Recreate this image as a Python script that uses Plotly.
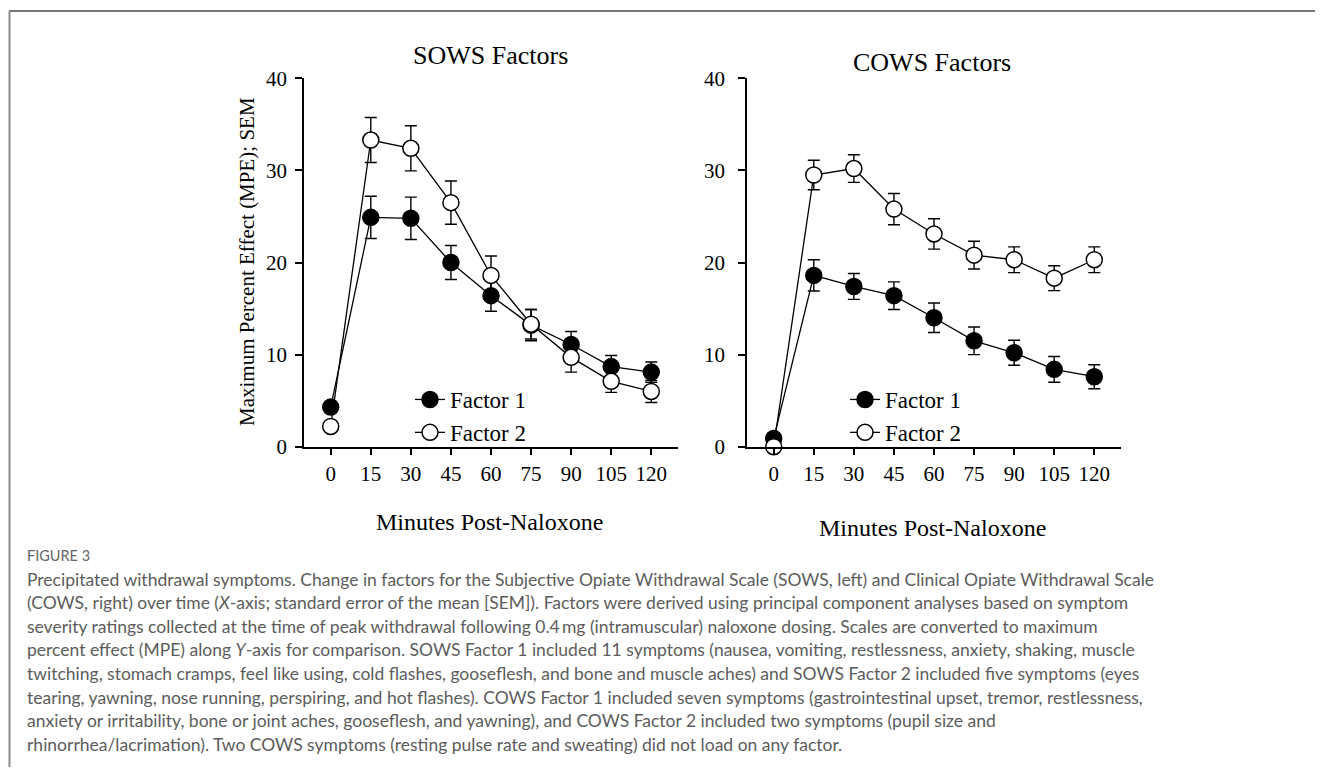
import plotly.graph_objects as go

# page body has an 8px default margin; size the figure so the page is exactly 1323x775
PAGE_W, PAGE_H = 1323, 775
BODY_MARGIN = 8
W, H = PAGE_W - 2 * BODY_MARGIN, PAGE_H - 2 * BODY_MARGIN

minutes = [0, 15, 30, 45, 60, 75, 90, 105, 120]
x_ticks = [0, 15, 30, 45, 60, 75, 90, 105, 120]
y_ticks = [0, 10, 20, 30, 40]

sows_f1 = [4.3, 24.9, 24.8, 20.0, 16.4, 13.2, 11.1, 8.7, 8.1]
sows_f1_sem = [0.6, 2.3, 2.3, 1.85, 1.7, 1.7, 1.4, 1.2, 1.1]
sows_f2 = [2.2, 33.3, 32.4, 26.5, 18.6, 13.3, 9.7, 7.1, 6.0]
sows_f2_sem = [0.5, 2.45, 2.45, 2.35, 2.1, 1.6, 1.6, 1.2, 1.2]

cows_f1 = [0.9, 18.6, 17.4, 16.4, 14.0, 11.5, 10.2, 8.4, 7.6]
cows_f1_sem = [0.4, 1.7, 1.4, 1.5, 1.6, 1.5, 1.35, 1.4, 1.3]
cows_f2 = [0.0, 29.5, 30.2, 25.8, 23.1, 20.8, 20.3, 18.3, 20.3]
cows_f2_sem = [0.3, 1.6, 1.5, 1.7, 1.65, 1.5, 1.4, 1.35, 1.4]

series_names = ["Factor 1", "Factor 2"]
panel_titles = ["SOWS Factors", "COWS Factors"]
x_title = "Minutes Post-Naloxone"
y_title = "Maximum Percent Effect (MPE); SEM"

caption_label = "FIGURE 3"
caption_lines = [
    "Precipitated withdrawal symptoms. Change in factors for the Subjective Opiate Withdrawal Scale (SOWS, left) and Clinical Opiate Withdrawal Scale",
    "(COWS, right) over time (<i>X</i>-axis; standard error of the mean [SEM]). Factors were derived using principal component analyses based on symptom",
    "severity ratings collected at the time of peak withdrawal following 0.4\u2009mg (intramuscular) naloxone dosing. Scales are converted to maximum",
    "percent effect (MPE) along <i>Y</i>-axis for comparison. SOWS Factor 1 included 11 symptoms (nausea, vomiting, restlessness, anxiety, shaking, muscle",
    "twitching, stomach cramps, feel like using, cold flashes, gooseflesh, and bone and muscle aches) and SOWS Factor 2 included five symptoms (eyes",
    "tearing, yawning, nose running, perspiring, and hot flashes). COWS Factor 1 included seven symptoms (gastrointestinal upset, tremor, restlessness,",
    "anxiety or irritability, bone or joint aches, gooseflesh, and yawning), and COWS Factor 2 included two symptoms (pupil size and",
    "rhinorrhea/lacrimation). Two COWS symptoms (resting pulse rate and sweating) did not load on any factor.",
]

SERIF = "Liberation Serif, Times New Roman, serif"
SANS = "Lato, Open Sans, sans-serif"


def px_x(p):
    return (p - BODY_MARGIN) / W


def px_y(p):
    return 1 - (p - BODY_MARGIN) / H


fig = go.Figure()

panels = [
    ("x", "y", "legend", sows_f1, sows_f1_sem, sows_f2, sows_f2_sem),
    ("x2", "y2", "legend2", cows_f1, cows_f1_sem, cows_f2, cows_f2_sem),
]

for xa, ya, lg, f1, f1e, f2, f2e in panels:
    fig.add_trace(go.Scatter(
        x=minutes, y=f1, xaxis=xa, yaxis=ya, name=series_names[0], legend=lg,
        mode="lines+markers", cliponaxis=False,
        line=dict(color="black", width=1.3),
        marker=dict(symbol="circle", size=16, color="black",
                    line=dict(color="black", width=1.5)),
        error_y=dict(type="data", array=f1e, visible=True, color="black",
                     thickness=1.4, width=6),
    ))
    fig.add_trace(go.Scatter(
        x=minutes, y=f2, xaxis=xa, yaxis=ya, name=series_names[1], legend=lg,
        mode="lines+markers", cliponaxis=False,
        line=dict(color="black", width=1.3),
        marker=dict(symbol="circle", size=16, color="white",
                    line=dict(color="black", width=1.5)),
        error_y=dict(type="data", array=f2e, visible=True, color="black",
                     thickness=1.4, width=6),
    ))

axis_common = dict(
    showline=True, linecolor="black", linewidth=1.5, mirror=False,
    ticks="outside", ticklen=7, tickwidth=1.5, tickcolor="black",
    showgrid=False, zeroline=False, automargin=False,
    tickfont=dict(family=SERIF, size=21, color="black"),
)

ydom = [px_y(446.7), px_y(78.3)]

fig.update_layout(
    width=W, height=H,
    margin=dict(l=0, r=0, t=0, b=0),
    paper_bgcolor="white", plot_bgcolor="white",
    showlegend=True,
    xaxis=dict(domain=[px_x(304), px_x(678)], range=[-10, 130], anchor="y",
               tickvals=x_ticks, **axis_common),
    yaxis=dict(domain=ydom, range=[0, 40], anchor="x",
               tickvals=y_ticks, ticklabelstandoff=4, **axis_common),
    xaxis2=dict(domain=[px_x(747), px_x(1121)], range=[-10, 130], anchor="y2",
                tickvals=x_ticks, **axis_common),
    yaxis2=dict(domain=ydom, range=[0, 40], anchor="x2",
                tickvals=y_ticks, ticklabelstandoff=9, **axis_common),
    legend=dict(x=px_x(410), y=px_y(378), xanchor="left", yanchor="top",
                bgcolor="rgba(0,0,0,0)", tracegroupgap=0,
                font=dict(family=SERIF, size=23, color="black")),
    legend2=dict(x=px_x(845), y=px_y(378), xanchor="left", yanchor="top",
                 bgcolor="rgba(0,0,0,0)", tracegroupgap=0,
                 font=dict(family=SERIF, size=23, color="black")),
)

annotations = [
    dict(text=panel_titles[0], x=px_x(490), y=px_y(56), xref="paper", yref="paper",
         showarrow=False, xanchor="center", yanchor="middle",
         font=dict(family=SERIF, size=26, color="black")),
    dict(text=panel_titles[1], x=px_x(932), y=px_y(63), xref="paper", yref="paper",
         showarrow=False, xanchor="center", yanchor="middle",
         font=dict(family=SERIF, size=26, color="black")),
    dict(text=x_title, x=px_x(489), y=px_y(522), xref="paper", yref="paper",
         showarrow=False, xanchor="center", yanchor="middle",
         font=dict(family=SERIF, size=24, color="black")),
    dict(text=x_title, x=px_x(932), y=px_y(528), xref="paper", yref="paper",
         showarrow=False, xanchor="center", yanchor="middle",
         font=dict(family=SERIF, size=24, color="black")),
    dict(text=y_title, x=px_x(247), y=px_y(262), xref="paper", yref="paper",
         showarrow=False, xanchor="center", yanchor="middle", textangle=-90,
         font=dict(family=SERIF, size=21, color="black")),
    dict(text=caption_label, x=px_x(25), y=px_y(555), xref="paper", yref="paper",
         showarrow=False, xanchor="left", yanchor="middle",
         font=dict(family=SANS, size=14.5, color="#666666")),
]

line_y0 = 579
line_step = 23.6
for i, line in enumerate(caption_lines):
    annotations.append(dict(
        text=line, x=px_x(25), y=px_y(line_y0 + i * line_step),
        xref="paper", yref="paper", showarrow=False,
        xanchor="left", yanchor="middle",
        font=dict(family=SANS, size=17.5, color="#5c5c5c"),
    ))

fig.update_layout(annotations=annotations)

fig.update_layout(shapes=[
    dict(type="line", xref="paper", yref="paper",
         x0=px_x(9), x1=1, y0=px_y(11), y1=px_y(11),
         line=dict(color="#4a4a4a", width=1.5)),
    dict(type="line", xref="paper", yref="paper",
         x0=px_x(9.5), x1=px_x(9.5), y0=px_y(11), y1=0,
         line=dict(color="#8a8a8a", width=2)),
])

fig.write_html("out.html")
